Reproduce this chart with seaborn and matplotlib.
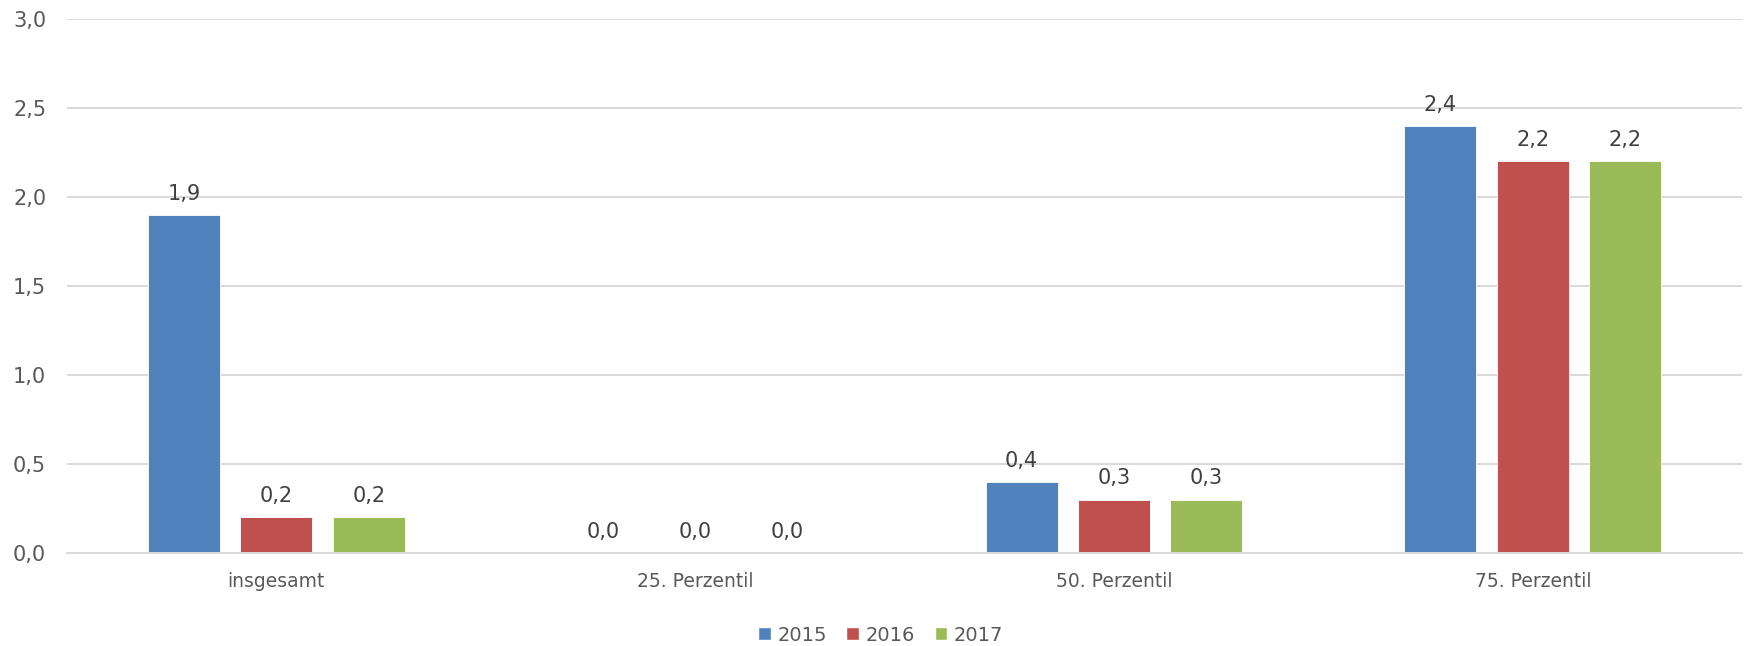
import pandas as pd
import seaborn as sns
import matplotlib.pyplot as plt
from matplotlib.patches import Patch

categories = ["insgesamt", "25. Perzentil", "50. Perzentil", "75. Perzentil"]
years = ["2015", "2016", "2017"]
values_2015 = [1.9, 0.0, 0.4, 2.4]
values_2016 = [0.2, 0.0, 0.3, 2.2]
values_2017 = [0.2, 0.0, 0.3, 2.2]
colors = ["#4F81BD", "#C0504D", "#9BBB59"]

df = pd.DataFrame({
    "Kategorie": categories * 3,
    "Jahr": [y for y in years for _ in categories],
    "Wert": values_2015 + values_2016 + values_2017,
})

sns.set_style("white")
plt.rcParams["font.family"] = ["DejaVu Sans"]
text_col = "#595959"

fig = plt.figure(figsize=(17.44, 6.46), dpi=100)
ax = fig.add_axes([0.0384, 0.144, 0.9606, 0.8266])

sns.barplot(data=df, x="Kategorie", y="Wert", hue="Jahr", order=categories,
            hue_order=years, palette=colors, saturation=1, width=0.662, gap=0.22,
            edgecolor="white", linewidth=0.6, legend=False, ax=ax)

for cont in ax.containers:
    ax.bar_label(cont, labels=[f"{b.get_height():.1f}".replace(".", ",") for b in cont],
                 padding=8, fontsize=15, color="#404040")

ax.set_ylim(0, 3.0)
ax.set_yticks([0, 0.5, 1.0, 1.5, 2.0, 2.5, 3.0])
ax.set_yticklabels([f"{t:.1f}".replace(".", ",") for t in ax.get_yticks()])
ax.set_xlim(-0.5, 3.5)
ax.set_xlabel("")
ax.set_ylabel("")
ax.yaxis.grid(True, color="#D9D9D9", linewidth=1.4)
ax.set_axisbelow(True)
sns.despine(ax=ax, left=True, top=True, right=True, bottom=False)
ax.spines["bottom"].set_color("#D9D9D9")
ax.spines["bottom"].set_linewidth(1.4)
ax.tick_params(axis="y", length=0, pad=15, labelsize=15, labelcolor=text_col)
ax.tick_params(axis="x", length=0, pad=14, labelsize=13.5, labelcolor=text_col)

handles = [Patch(facecolor=c, label=y) for c, y in zip(colors, years)]
leg = fig.legend(handles=handles, loc="lower center", bbox_to_anchor=(0.505, -0.025),
                 ncol=3, frameon=False, fontsize=14, handlelength=0.65,
                 handleheight=0.65, handletextpad=0.35, columnspacing=1.0)
for t in leg.get_texts():
    t.set_color(text_col)

fig.savefig("out.png", dpi=100)
